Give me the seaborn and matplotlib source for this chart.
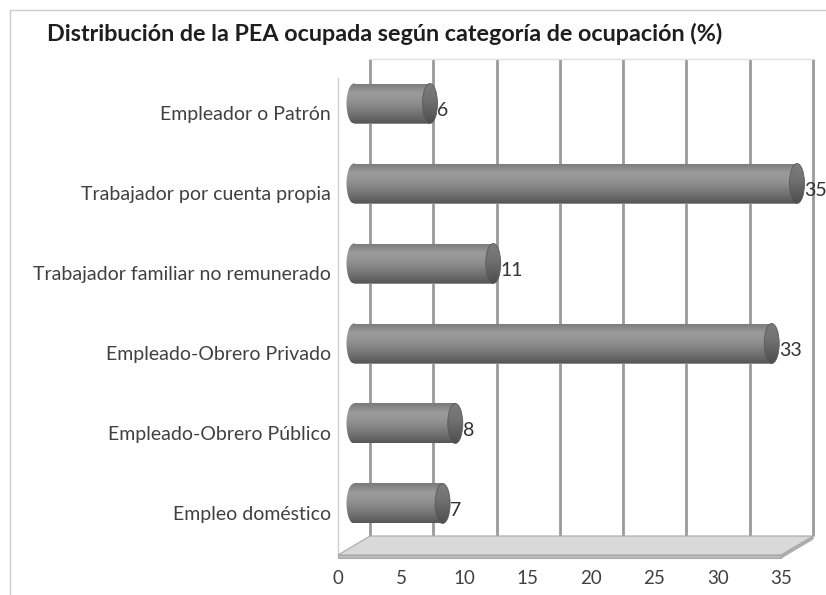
import numpy as np
import pandas as pd
import seaborn as sns
import matplotlib.pyplot as plt
from matplotlib.transforms import offset_copy, IdentityTransform
from matplotlib.patches import Ellipse, Polygon
from matplotlib.lines import Line2D
from matplotlib.colors import LinearSegmentedColormap

# --- Data ---
categories = [
    "Empleador o Patrón",
    "Trabajador por cuenta propia",
    "Trabajador familiar no remunerado",
    "Empleado-Obrero Privado",
    "Empleado-Obrero Público",
    "Empleo doméstico",
]
values = [6, 35, 11, 33, 8, 7]
xticks = [0, 5, 10, 15, 20, 25, 30, 35]
title = "Distribución de la PEA ocupada según categoría de ocupación (%)"

# --- Layout (pixels) ---
W, H = 826, 595
DX, DY = 32, 19            # depth shift of the back wall
LEFT, RIGHT, TOP, BOTTOM = 338, 781, 78, 555   # front plane of the plot
BAR_W = 0.5
CAP_PX = 7.5               # half width of the cylinder end caps

sns.set_theme(style="white")
plt.rcParams['font.family'] = ['Lato', 'DejaVu Sans']

fig = plt.figure(figsize=(W / 100, H / 100), dpi=100)
fig.patch.set_facecolor('white')
ax = fig.add_axes([LEFT / W, 1 - BOTTOM / H, (RIGHT - LEFT) / W, (BOTTOM - TOP) / H])

df = pd.DataFrame({'cat': categories, 'val': values})
sns.barplot(data=df, x='val', y='cat', orient='h', width=BAR_W, color='#8a8a8a',
            ax=ax, zorder=3)

ax.set_xlim(0, 35)
ax.set_ylim((BOTTOM - 113) / 80, (TOP - 113) / 80)
ax.set_facecolor('none')
for s in ax.spines.values():
    s.set_visible(False)
ax.set_xlabel('')
ax.set_ylabel('')
ax.set_xticks(xticks)
ax.set_xticklabels([str(t) for t in xticks])
ax.tick_params(axis='x', length=0, pad=11, labelsize=13.5, labelcolor='#404040')
ax.tick_params(axis='y', length=0, pad=5, labelsize=14, labelcolor='#404040')

mid = offset_copy(ax.transData, fig=fig, x=DX / 2, y=DY / 2, units='dots')
back = offset_copy(ax.transData, fig=fig, x=DX, y=DY, units='dots')
lab = offset_copy(ax.transData, fig=fig, x=DX / 2 + CAP_PX, y=DY / 2 - 7, units='dots')

# --- back wall gridlines ---
y_lo, y_hi = ax.get_ylim()
for t in xticks:
    ax.plot([t, t], [y_lo, y_hi], transform=back, color='#9a9a9a', lw=2,
            zorder=1, clip_on=False, solid_capstyle='butt')
ax.plot([0, 35], [y_hi, y_hi], transform=back, color='#e0e0e0', lw=1, zorder=1, clip_on=False)
# left wall front edge
ax.plot([0, 0], [y_lo, y_hi], color='#cfcfcf', lw=1, zorder=1, clip_on=False)

# --- floor ---
fl = ax.transData.transform([(0, y_lo), (35, y_lo)])
top_face = [fl[0], fl[1], fl[1] + (DX, DY), fl[0] + (DX, DY)]
front_face = [fl[0], fl[1], fl[1] + (0, -3), fl[0] + (0, -3)]
side_face = [fl[1], fl[1] + (DX, DY), fl[1] + (DX, DY - 3), fl[1] + (0, -3)]
for pts, fc in [(front_face, '#bdbdbd'), (side_face, '#b0b0b0'), (top_face, '#d9d9d9')]:
    fig.add_artist(Polygon(pts, closed=True, transform=IdentityTransform(),
                           facecolor=fc, edgecolor='#a8a8a8', lw=0.8, zorder=0.5))

# --- cylinders ---
body_cmap = LinearSegmentedColormap.from_list(
    'cyl', [(0, '#7a7a7a'), (0.25, '#9b9b9b'), (0.5, '#8f8f8f'), (0.85, '#6a6a6a'), (1, '#565656')])
cap_cmap = LinearSegmentedColormap.from_list(
    'cap', [(0, '#7c7c7c'), (0.4, '#727272'), (1, '#4e4e4e')])
grad = np.linspace(0, 1, 200).reshape(-1, 1)
cap_w = 2 * CAP_PX / (ax.transData.transform((1, 0))[0] - ax.transData.transform((0, 0))[0])

for i, (p, v) in enumerate(zip(ax.patches, values)):
    p.set_transform(mid)
    p.set_clip_on(False)
    p.set_edgecolor('none')
    y0, y1 = i - BAR_W / 2, i + BAR_W / 2
    # body
    im = ax.imshow(grad, extent=(0, v, y0, y1), origin='lower', transform=mid,
                   aspect='auto', cmap=body_cmap, vmin=0, vmax=1, zorder=3.1,
                   interpolation='bilinear')
    im.set_clip_path(p)
    # rounded left end
    le = Ellipse((0, i), cap_w, BAR_W, transform=mid, fc='none', ec='none', clip_on=False)
    ax.add_patch(le)
    im = ax.imshow(grad, extent=(-cap_w, cap_w, y0, y1), origin='lower', transform=mid,
                   aspect='auto', cmap=body_cmap, vmin=0, vmax=1, zorder=3.0,
                   interpolation='bilinear')
    im.set_clip_path(le)
    im.set_clip_box(fig.bbox)
    # right end cap
    re = Ellipse((v, i), cap_w, BAR_W, transform=mid, fc='none', ec='#5a5a5a', lw=0.6,
                 clip_on=False, zorder=3.3)
    ax.add_patch(re)
    im = ax.imshow(grad, extent=(v - cap_w, v + cap_w, y0, y1), origin='lower', transform=mid,
                   aspect='auto', cmap=cap_cmap, vmin=0, vmax=1, zorder=3.2,
                   interpolation='bilinear')
    im.set_clip_path(re)
    im.set_clip_box(fig.bbox)
    # value label
    ax.text(v, i, str(v), transform=lab, ha='left', va='center', fontsize=14,
            color='#333333', clip_on=False, zorder=4)

ax.set_xlim(0, 35)
ax.set_ylim(y_lo, y_hi)

# --- title and outer frame ---
fig.text(47 / W, 1 - 34 / H, title, ha='left', va='center', fontsize=16.8,
         weight='bold', color='#1e1e1e')
fig.add_artist(Line2D([9.5 / W, 9.5 / W], [0, 1 - 10 / H], transform=fig.transFigure,
                      color='#cccccc', lw=1))
fig.add_artist(Line2D([9.5 / W, 1], [1 - 10 / H, 1 - 10 / H], transform=fig.transFigure,
                      color='#cccccc', lw=1))

fig.savefig('out.png', dpi=100)
